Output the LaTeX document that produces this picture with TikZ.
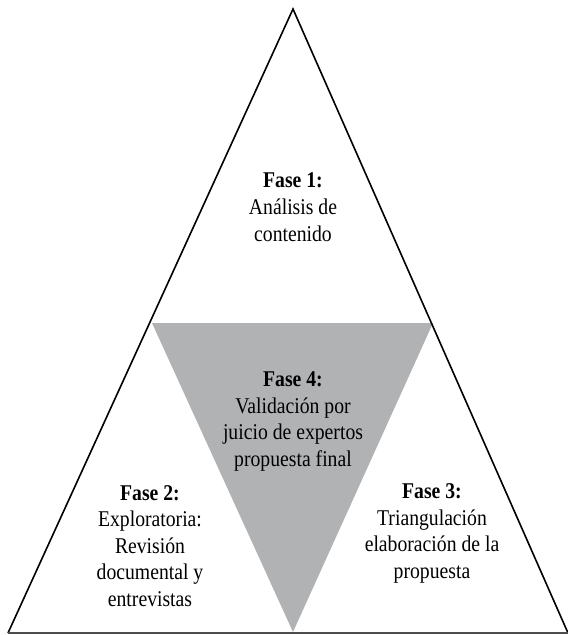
\documentclass[tikz,border=0pt]{standalone}
\usepackage{fontspec}
\setmainfont[FakeStretch=0.875]{Liberation Serif}
\tikzset{
  side/.style={draw=black, line width=1.6bp, line join=miter},
  basel/.style={draw=black!70, line width=1.5bp},
  inner/.style={fill=grayfill, draw=none},
  phase/.style={align=center, anchor=base, font=\fontsize{22.5bp}{26.5bp}\selectfont, inner sep=0pt, text=black}
}
\definecolor{grayfill}{HTML}{B1B2B4}
\begin{document}
\begin{tikzpicture}[x=1bp, y=-1bp]
\useasboundingbox (0,0) rectangle (568,635);
\coordinate (A) at (293,9);
\coordinate (L) at (8,633);
\coordinate (R) at (568,633);
\coordinate (GL) at (152,323);
\coordinate (GR) at (433,323);
\coordinate (GB) at (293,632);
\fill[inner] (GL) -- (GR) -- (GB) -- cycle;
\draw[side] (L) -- (A) -- (R);
\draw[basel] (L) -- (R);
\node[phase] (f1) at (293,241) {\textbf{Fase 1:}\\Análisis de\\contenido};
\node[phase] (f4) at (293,466) {\textbf{Fase 4:}\\Validación por\\juicio de expertos\\propuesta final};
\node[phase] (f2) at (150,606) {\textbf{Fase 2:}\\Exploratoria:\\Revisión\\documental y\\entrevistas};
\node[phase] (f3) at (432,578) {\textbf{Fase 3:}\\Triangulación\\elaboración de la\\propuesta};
\end{tikzpicture}
\end{document}
